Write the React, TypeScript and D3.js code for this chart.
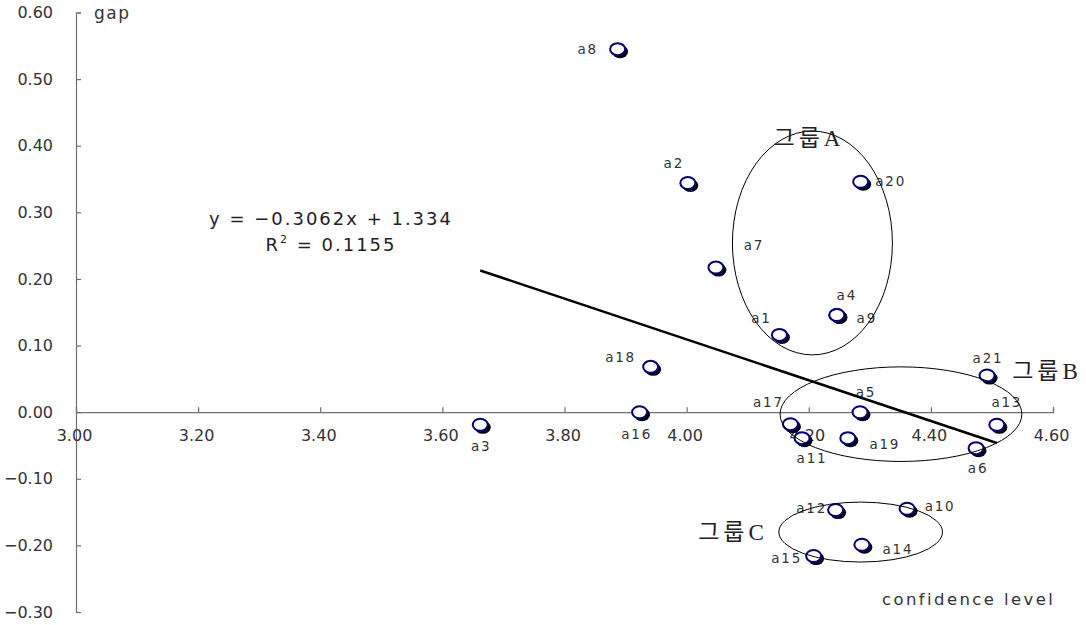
import React, { useRef, useEffect } from 'react'
import { scaleLinear, select, axisLeft, axisBottom, format, min, max } from 'd3'

// points a1..a21
const names = ['a1', 'a2', 'a3', 'a4', 'a5', 'a6', 'a7', 'a8', 'a9', 'a10', 'a11', 'a12', 'a13', 'a14', 'a15', 'a16', 'a17', 'a18', 'a19', 'a20', 'a21']
const confidence = [4.152, 4.002, 3.662, 4.246, 4.284, 4.474, 4.048, 3.887, 4.246, 4.361, 4.189, 4.244, 4.508, 4.287, 4.208, 3.923, 4.170, 3.941, 4.264, 4.285, 4.492]
const gap = [0.116, 0.344, -0.019, 0.146, 0.0, -0.054, 0.217, 0.545, 0.146, -0.145, -0.039, -0.147, -0.019, -0.199, -0.216, 0.0, -0.018, 0.068, -0.039, 0.346, 0.055]

const xTicks = [3.0, 3.2, 3.4, 3.6, 3.8, 4.0, 4.2, 4.4, 4.6]
const yTicks = [0.6, 0.5, 0.4, 0.3, 0.2, 0.1, 0.0, -0.1, -0.2, -0.3]

// trendline
const slope = -0.3062
const intercept = 1.334
const r2 = 0.1155

// group ellipses (centre and half-axes in data units)
const groupNames = ['그룹A', '그룹B', '그룹C']
const groupCx = [4.206, 4.351, 4.285]
const groupCy = [0.254, -0.003, -0.180]
const groupRx = [0.131, 0.198, 0.134]
const groupRy = [0.168, 0.071, 0.045]

// label offsets in px relative to the marker
const labelOffset: Record<string, [number, number]> = {
  a1: [-19, -17], a2: [-15, -20], a3: [0, 21], a4: [9, -20], a5: [5, -20],
  a6: [1, 20], a7: [37, -23], a8: [-31, 0], a9: [29, 3], a10: [32, -3],
  a11: [9, 20], a12: [-25, -2], a13: [9, -23], a14: [35, 4], a15: [-28, 2],
  a16: [-4, 22], a17: [-23, -22], a18: [-31, -10], a19: [36, 6], a20: [29, -1],
  a21: [0, -18],
}
const groupLabelPos: [number, number][] = [[809, 138], [1047, 371], [733, 532]]

const W = 1086
const H = 625
const x = scaleLinear().domain([3.0, 4.6]).range([76, 1053])
const y = scaleLinear().domain([-0.3, 0.6]).range([612, 12.5])

const font = '"DejaVu Sans", Verdana, sans-serif'

export default function App() {
  const xAxisRef = useRef<SVGGElement>(null)
  const yAxisRef = useRef<SVGGElement>(null)

  useEffect(() => {
    document.body.style.margin = '0'
    const fmt = format('.2f')
    const yAxis = axisLeft(y).tickValues(yTicks).tickFormat(d => fmt(d as number)).tickSizeInner(-5).tickSizeOuter(-5).tickPadding(23)
    const xAxis = axisBottom(x).tickValues(xTicks).tickFormat(d => fmt(d as number)).tickSizeInner(-5).tickSizeOuter(-5).tickPadding(17)
    const gy = select(yAxisRef.current!).call(yAxis as any)
    const gx = select(xAxisRef.current!).call(xAxis as any)
    for (const g of [gx, gy]) {
      g.selectAll('path, line').attr('stroke', '#707070').attr('stroke-width', 1.2)
      g.selectAll('text').attr('fill', '#333').style('font-size', '16px').style('font-family', font)
    }
    gx.selectAll('text').attr('dx', -2)
  }, [])

  const x0 = min(confidence)!
  const x1 = max(confidence)!

  return (
    <svg width={W} height={H} style={{ display: 'block', background: '#fff' }}>
      <g ref={yAxisRef} transform={`translate(${x(3.0)},0)`} />
      <g ref={xAxisRef} transform={`translate(0,${y(0)})`} />

      <text x={94} y={19} fontSize={17} fontFamily={font} fill="#333" letterSpacing={1.5}>gap</text>
      <text x={882} y={605} fontSize={16.5} fontFamily={font} fill="#333" letterSpacing={2.4}>confidence level</text>

      {names.map((n, i) => {
        const px = x(confidence[i])
        const py = y(gap[i])
        return (
          <g key={n}>
            <ellipse cx={px + 2.5} cy={py + 2.5} rx={8} ry={6.5} fill="#000" />
            <ellipse cx={px} cy={py} rx={7.5} ry={6} fill="#fff" stroke="#00007f" strokeWidth={2} />
          </g>
        )
      })}

      {names.map((n, i) => {
        const [dx, dy] = labelOffset[n]
        return (
          <text key={n} x={x(confidence[i]) + dx + 1} y={y(gap[i]) + dy + 5} textAnchor="middle"
            fontSize={13.5} fontFamily={font} fill="#333" letterSpacing={1.8}>{n}</text>
        )
      })}

      <line x1={x(x0)} y1={y(slope * x0 + intercept)} x2={x(x1)} y2={y(slope * x1 + intercept)}
        stroke="#000" strokeWidth={2.5} />

      <text x={331} y={225} textAnchor="middle" fontSize={18} fontFamily={font} fill="#222" letterSpacing={2}>
        {`y = \u2212${Math.abs(slope).toFixed(4)}x + ${intercept}`}
      </text>
      <text x={331} y={251} textAnchor="middle" fontSize={18} fontFamily={font} fill="#222" letterSpacing={2}>
        R<tspan dy={-8} fontSize={11}>2</tspan><tspan dy={8}>{` = ${r2}`}</tspan>
      </text>

      {groupNames.map((g, i) => {
        const cx = x(groupCx[i])
        const cy = y(groupCy[i])
        const rx = x(groupCx[i] + groupRx[i]) - cx
        const ry = cy - y(groupCy[i] + groupRy[i])
        return (
          <g key={g}>
            <ellipse cx={cx} cy={cy} rx={rx} ry={ry} fill="none" stroke="#000" strokeWidth={1} />
            <text x={groupLabelPos[i][0]} y={groupLabelPos[i][1] + 8} textAnchor="middle" fontSize={23}
              fontFamily='"Liberation Serif", "Noto Sans CJK KR", serif' fill="#222" letterSpacing={4}>{g}</text>
          </g>
        )
      })}
    </svg>
  )
}
